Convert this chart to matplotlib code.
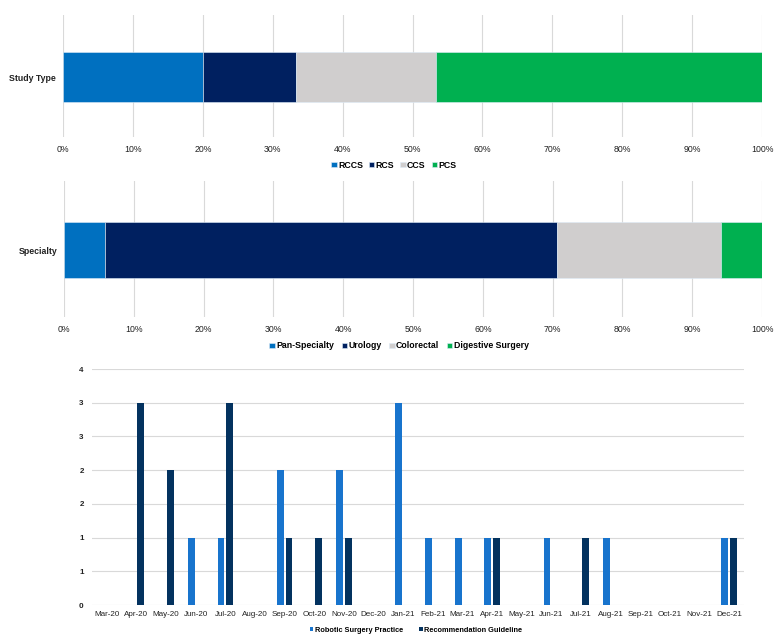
import numpy as np
import matplotlib
matplotlib.use("Agg")
import matplotlib.pyplot as plt
from matplotlib.ticker import FuncFormatter, MultipleLocator

plt.rcParams['font.family'] = ['Liberation Sans', 'DejaVu Sans']

# Study type (number of studies)
study_types = ["RCCS", "RCS", "CCS", "PCS"]
study_counts = [3, 2, 3, 7]
study_colors = ["#0070C0", "#002060", "#D0CECE", "#00B050"]

# Specialty (number of studies)
specialties = ["Pan-Specialty", "Urology", "Colorectal", "Digestive Surgery"]
specialty_counts = [1, 11, 4, 1]
specialty_colors = ["#0070C0", "#002060", "#D0CECE", "#00B050"]

# Publications per month
months = ["Mar-20", "Apr-20", "May-20", "Jun-20", "Jul-20", "Aug-20", "Sep-20",
          "Oct-20", "Nov-20", "Dec-20", "Jan-21", "Feb-21", "Mar-21", "Apr-21",
          "May-21", "Jun-21", "Jul-21", "Aug-21", "Sep-21", "Oct-21", "Nov-21",
          "Dec-21"]
practice = [0, 0, 0, 1, 1, 0, 2, 0, 2, 0, 3, 1, 1, 1, 0, 1, 0, 1, 0, 0, 0, 1]
guideline = [0, 3, 2, 0, 3, 0, 1, 1, 1, 0, 0, 0, 0, 1, 0, 0, 1, 0, 0, 0, 0, 1]
series_names = ["Robotic Surgery Practice", "Recommendation Guideline"]
series_colors = ["#1874CD", "#03325F"]

W, H = 783, 644
fig = plt.figure(figsize=(W / 100, H / 100), dpi=100)


def px_axes(left, top, right, bottom):
    return fig.add_axes([left / W, 1 - bottom / H, (right - left) / W, (bottom - top) / H])


def stacked_panel(ax, label, names, counts, colors, legend_xy, colspace):
    pct = np.array(counts, dtype=float) / sum(counts) * 100
    left = 0.0
    handles = []
    for n, v, c in zip(names, pct, colors):
        h = ax.barh([0], [v], left=left, height=0.41, color=c, edgecolor="#DDEBF7",
                    linewidth=0.4, label=n, zorder=3)
        handles.append(h)
        left += v
    ax.set_xlim(0, 100)
    ax.set_ylim(-0.49, 0.51)
    ax.set_xticks(np.arange(0, 101, 10))
    ax.xaxis.set_major_formatter(FuncFormatter(lambda v, p: f"{int(v)}%"))
    ax.set_yticks([0])
    ax.set_yticklabels([label], fontweight="bold", fontsize=6.3)
    ax.tick_params(axis="both", length=0, labelsize=6.3, colors="#222222")
    ax.tick_params(axis="x", pad=6)
    ax.tick_params(axis="y", pad=5)
    ax.grid(axis="x", color="#D9D9D9", linewidth=0.8, zorder=0)
    for s in ax.spines.values():
        s.set_visible(False)
    fig.legend(handles=handles, loc="center", bbox_to_anchor=legend_xy, ncol=4,
               frameon=False, handlelength=0.6, handleheight=0.6, handletextpad=0.15,
               columnspacing=colspace, prop={"weight": "bold", "size": 6.3})


ax1 = px_axes(63, 15, 762, 137)
stacked_panel(ax1, "Study Type", study_types, study_counts, study_colors,
              (394 / W, 1 - 165 / H), 0.7)

ax2 = px_axes(64, 181, 762, 317)
stacked_panel(ax2, "Specialty", specialties, specialty_counts, specialty_colors,
              (399 / W, 1 - 346 / H), 0.9)

# bottom monthly chart
ax3 = px_axes(92, 369, 744, 605)
x = np.arange(len(months))
w = 0.23
b1 = ax3.bar(x - 0.145, practice, width=w, color=series_colors[0], label=series_names[0], zorder=3)
b2 = ax3.bar(x + 0.145, guideline, width=w, color=series_colors[1], label=series_names[1], zorder=3)
ax3.set_xlim(-0.5, len(months) - 0.5)
ax3.set_ylim(0, 3.5)
ax3.yaxis.set_major_locator(MultipleLocator(0.5))
ax3.yaxis.set_major_formatter(FuncFormatter(lambda v, p: f"{int(v + 0.5)}"))
ax3.set_xticks(x)
ax3.set_xticklabels(months)
ax3.tick_params(axis="both", length=0, labelsize=5.8, colors="#222222")
ax3.tick_params(axis="x", pad=4)
ax3.tick_params(axis="y", pad=6)
plt.setp(ax3.get_yticklabels(), fontweight="bold")
ax3.grid(axis="y", color="#D9D9D9", linewidth=0.8, zorder=0)
for s in ax3.spines.values():
    s.set_visible(False)
fig.legend(handles=[b1, b2], loc="center", bbox_to_anchor=(416 / W, 1 - 630 / H), ncol=2,
           frameon=False, handlelength=0.5, handleheight=0.5, handletextpad=0.2,
           columnspacing=2.2, prop={"weight": "bold", "size": 5.3})

fig.savefig("out.png", dpi=100)
